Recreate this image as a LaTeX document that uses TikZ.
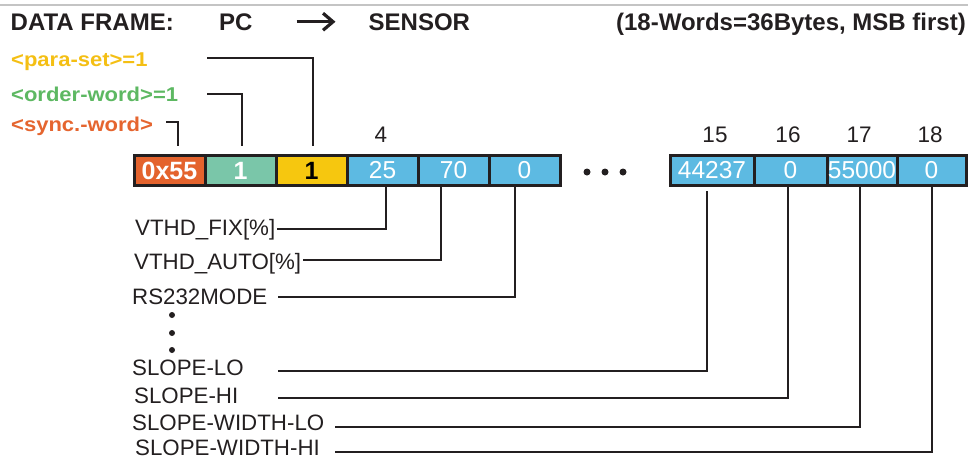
\documentclass[tikz,border=0pt]{standalone}
\usepackage{fontspec}
\setmainfont{Liberation Sans}
\newfontfamily\lblfont[FakeStretch=1.1]{Liberation Sans}
\usetikzlibrary{arrows.meta,calc}
\definecolor{lineC}{HTML}{231F20}
\definecolor{cOr}{HTML}{E4632D}
\definecolor{cGr}{HTML}{7AC6A9}
\definecolor{cYe}{HTML}{F6C70F}
\definecolor{cBl}{HTML}{5DBAE2}
\definecolor{tYe}{HTML}{F4BF14}
\definecolor{tGr}{HTML}{5DB862}
\definecolor{tOr}{HTML}{E5652F}
\definecolor{topG}{HTML}{C4C4C4}
\begin{document}
\begin{tikzpicture}[x=1pt,y=-1pt,
  box/.style={draw=lineC, line width=3pt, minimum height=30pt, inner sep=0pt,
              font=\fontsize{24.5}{24}\selectfont, text=white},
  boxb/.style={box, font=\fontsize{25}{25}\selectfont\bfseries},
  conn/.style={draw=lineC, line width=1.8pt},
  ttl/.style={anchor=base west, inner sep=0pt, font=\fontsize{24}{28}\selectfont\bfseries, text=lineC},
  lab/.style={anchor=base west, inner sep=0pt, text depth=0pt, font=\fontsize{22.3}{24}\selectfont, text=lineC},
  clab/.style={anchor=base west, inner sep=0pt, font=\lblfont\bfseries\fontsize{20}{22}\selectfont},
  idx/.style={inner sep=0pt, font=\fontsize{22.5}{24}\selectfont, text=lineC},
  dotc/.style={fill=lineC}]
\useasboundingbox (0,0) rectangle (968,459);
\draw[topG, line width=2pt] (0,4.5) -- (968,4.5);

% title
\node[ttl] (df) at (10.5,30) {DATA FRAME:};
\node[ttl] (pc) at (219,30) {PC};
\node[ttl] (sen) at (368.5,30) {SENSOR};
\node[ttl, anchor=base east] (wd) at (966,30) {(18-Words=36Bytes, MSB first)};
\draw[lineC, line width=3.2pt, -{Straight Barb[length=10pt,width=17pt,line width=3.2pt]}]
  ([xshift=44pt]pc.east) -- ([xshift=-33pt]sen.west);

% coloured labels
\node[clab, text=tYe] (ps) at (11,66.7) {<para-set>=1};
\node[clab, text=tGr] (ow) at (11,101) {<order-word>=1};
\node[clab, text=tOr] (sw) at (11,131.5) {<sync.-word>};

% boxes
\node[boxb, fill=cOr, minimum width=71pt] (b1) at (169.5,170.5) {0x55};
\node[boxb, fill=cGr, minimum width=71pt] (b2) at (240.5,170.5) {1};
\node[boxb, fill=cYe, minimum width=71pt, text=black] (b3) at (311.5,170.5) {1};
\node[box, fill=cBl, minimum width=71pt] (b4) at (382.5,170.5) {25};
\node[box, fill=cBl, minimum width=71pt] (b5) at (453.5,170.5) {70};
\node[box, fill=cBl, minimum width=71pt] (b6) at (524.5,170.5) {0};
\node[box, fill=cBl, minimum width=84pt] (b15) at (712,170.5) {44237};
\node[box, fill=cBl, minimum width=73pt] (b16) at (790.5,170.5) {0};
\node[box, fill=cBl, minimum width=70pt] (b17) at (862,170.5) {55000};
\node[box, fill=cBl, minimum width=69pt] (b18) at (931.5,170.5) {0};

% index numbers
\node[idx] (n4) at (381,135) {4};
\node[idx] (n15) at (715,135) {15};
\node[idx] (n16) at (788,135) {16};
\node[idx] (n17) at (859,135) {17};
\node[idx] (n18) at (930,135) {18};

% dots
\fill[dotc] (587,172) circle (3.5pt) (605,172) circle (3.5pt) (623,172) circle (3.5pt);
\fill[dotc] (172,315) circle (3pt) (172,333) circle (3pt) (172,350) circle (3pt);

% top connectors
\coordinate (ps0) at (207,58);
\coordinate (ow0) at (207,94);
\coordinate (sw0) at (166,122);
\draw[conn] (ps0) -| ([xshift=1.5pt,yshift=8.5pt]b3.north);
\draw[conn] (ow0) -| ([xshift=1.5pt,yshift=8.5pt]b2.north);
\draw[conn] (sw0) -| ([xshift=8.5pt,yshift=8.5pt]b1.north);

% bottom labels
\node[lab] (l1) at (135,235.7) {VTHD\_FIX[\%]};
\node[lab] (l2) at (134,269) {VTHD\_AUTO[\%]};
\node[lab] (l3) at (132,304.3) {RS232MODE};
\node[lab] (l4) at (132,375.7) {SLOPE-LO};
\node[lab] (l5) at (134,403.3) {SLOPE-HI};
\node[lab] (l6) at (132,430) {SLOPE-WIDTH-LO};
\node[lab] (l7) at (135,455.5) {SLOPE-WIDTH-HI};

\coordinate (v1) at (277,229);
\coordinate (v2) at (303,260);
\coordinate (v3) at (278,297);
\coordinate (v4) at (278,371);
\coordinate (v5) at (278,398);
\coordinate (v6) at (335,427);
\coordinate (v7) at (335,452);
\draw[conn] (v1) -| ([xshift=3.5pt]b4.south);
\draw[conn] (v2) -| ([xshift=-12.5pt]b5.south);
\draw[conn] (v3) -| ([xshift=-9.5pt]b6.south);
\draw[conn] (v4) -| ([xshift=-5pt,yshift=-4pt]b15.south);
\draw[conn] (v5) -| ([xshift=-2.5pt]b16.south);
\draw[conn] (v6) -| ([xshift=-2pt]b17.south);
\draw[conn] (v7) -| ([xshift=0.5pt]b18.south);
\end{tikzpicture}
\end{document}
